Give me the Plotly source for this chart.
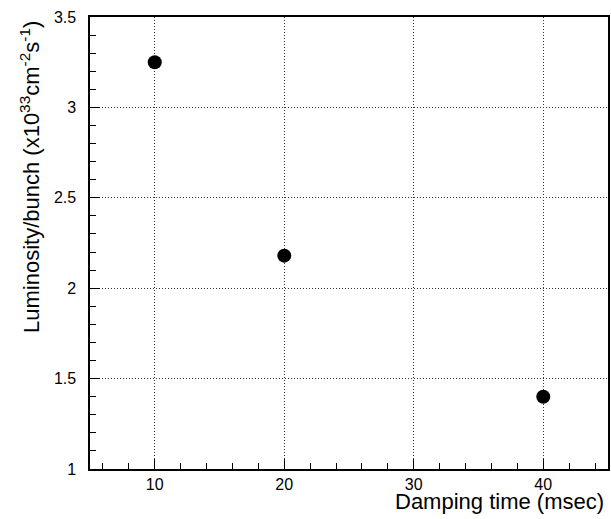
import plotly.graph_objects as go

damping_time = [10, 20, 40]
luminosity = [3.25, 2.18, 1.40]

x_title = "Damping time (msec)"
y_title = "Luminosity/bunch (x10<sup>33</sup>cm<sup>-2</sup>s<sup>-1</sup>)"

FONT = "Liberation Sans, Arial, sans-serif"

fig = go.Figure()
fig.add_trace(go.Scatter(
    x=damping_time, y=luminosity, mode="markers",
    marker=dict(symbol="circle", size=14, color="black"),
    showlegend=False,
))

axis_common = dict(
    showline=True, linecolor="black", linewidth=1.5, mirror=True,
    ticks="inside", ticklen=10, tickcolor="black", tickwidth=1,
    showgrid=True, gridcolor="#333333", griddash="1px,2px", gridwidth=1,
    zeroline=False,
    tickfont=dict(family=FONT, size=16, color="black"),
)

fig.update_xaxes(
    range=[5, 45], tick0=10, dtick=10,
    minor=dict(dtick=2, tick0=0, ticks="inside", ticklen=6, tickcolor="black", showgrid=False),
    **axis_common,
)
fig.update_yaxes(
    range=[1, 3.5], tick0=1, dtick=0.5,
    minor=dict(dtick=0.1, tick0=1, ticks="inside", ticklen=6, tickcolor="black", showgrid=False),
    ticksuffix="\u00a0\u00a0",
    **axis_common,
)

fig.add_annotation(
    text=x_title, xref="paper", yref="paper", x=1, y=0,
    xanchor="right", yanchor="top", yshift=-18, xshift=-2,
    showarrow=False, font=dict(family=FONT, size=22, color="black"),
)
fig.add_annotation(
    text=y_title, xref="paper", yref="paper", x=0, y=1,
    xanchor="center", yanchor="top", xshift=-60, yshift=-2,
    textangle=-90,
    showarrow=False, font=dict(family=FONT, size=22, color="black"),
)

fig.update_layout(
    width=611, height=519,
    margin=dict(l=90, r=1, t=17, b=50),
    paper_bgcolor="white", plot_bgcolor="white",
    font=dict(family=FONT, color="black"),
)

fig.write_html("out.html")
